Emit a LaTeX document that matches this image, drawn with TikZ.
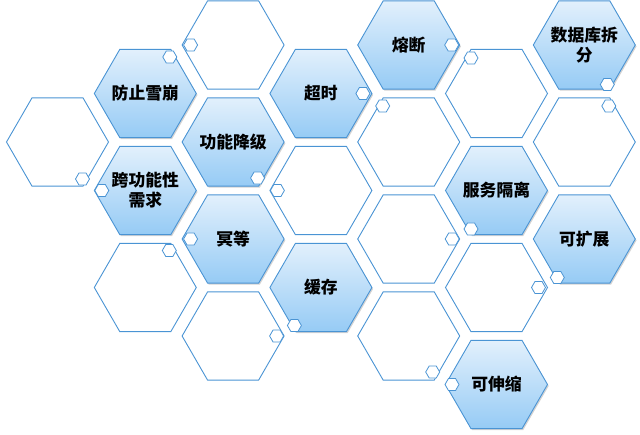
\documentclass[tikz,border=0pt]{standalone}
\usepackage{fontspec}
\newfontfamily\cjk{Noto Sans CJK SC}
\definecolor{hexblue}{RGB}{74, 148, 212}
\definecolor{hextop}{RGB}{226, 240, 252}
\definecolor{hexbottom}{RGB}{150, 203, 245}
\usepackage{tikz}
\usetikzlibrary{shapes.geometric, positioning, calc, shadows}

\tikzset{
  hexfull/.style={regular polygon, regular polygon sides=6, minimum size=102pt, inner sep=-14pt,
    draw=hexblue, line width=0.9pt, top color=hextop, bottom color=hexbottom,
    drop shadow={opacity=0.35, shadow xshift=1.2pt, shadow yshift=-1.5pt},
    font=\cjk\bfseries\fontsize{16.8pt}{20pt}\selectfont, align=center},
  hexempty/.style={regular polygon, regular polygon sides=6, minimum size=102pt, inner sep=0pt,
    draw=hexblue, line width=0.9pt, fill=white},
  hexicon/.style={regular polygon, regular polygon sides=6, minimum size=14pt, inner sep=0pt,
    draw=hexblue, line width=0.8pt, fill=white}
}

\begin{document}
\begin{tikzpicture}[x=1pt, y=-1pt]
  \useasboundingbox (0,0) rectangle (640,434);

  % Empty cells
  \node[hexempty] (e1) at (57.5, 142) {};
  \node[hexempty] (e2) at (145.3, 287.5) {};
  \node[hexempty] (e3) at (233.1, 45) {};
  \node[hexempty] (e4) at (233.1, 336) {};
  \node[hexempty] (e5) at (320.9, 190.5) {};
  \node[hexempty] (e6) at (408.7, 142) {};
  \node[hexempty] (e7) at (408.7, 239) {};
  \node[hexempty] (e8) at (408.7, 336) {};
  \node[hexempty] (e9) at (496.5, 93.5) {};
  \node[hexempty] (e10) at (496.5, 287.5) {};
  \node[hexempty] (e11) at (584.3, 142) {};

  % Labelled cells
  \node[hexfull] (avalanche) at (145.3, 93.5) {防止雪崩};
  \node[hexfull] (crossreq) at (145.3, 190.5) {跨功能性\\需求};
  \node[hexfull] (degrade) at (233.1, 142) {功能降级};
  \node[hexfull] (idem) at (233.1, 239) {冥等};
  \node[hexfull] (timeout) at (320.9, 93.5) {超时};
  \node[hexfull] (cache) at (320.9, 287.5) {缓存};
  \node[hexfull] (fuse) at (408.7, 45) {熔断};
  \node[hexfull] (isolate) at (496.5, 190.5) {服务隔离};
  \node[hexfull] (elastic) at (496.5, 384.5) {可伸缩};
  \node[hexfull] (dbsplit) at (584.3, 45) {数据库拆\\分};
  \node[hexfull] (scale) at (584.3, 239) {可扩展};

  % Corner icons
  \node[hexicon] (i1) at ($(e1)+(25,37)$) {};
  \node[hexicon] (i2) at ($(e2)+(24,-37)$) {};
  \node[hexicon] (i3) at ($(e3)+(-42.5,0)$) {};
  \node[hexicon] (i4) at ($(e4)+(43.5,0)$) {};
  \node[hexicon] (i5) at ($(e5)+(-43.5,0)$) {};
  \node[hexicon] (i6) at ($(e6)+(-26,-36)$) {};
  \node[hexicon] (i7) at ($(e7)+(43.5,0)$) {};
  \node[hexicon] (i8) at ($(e8)+(24,36)$) {};
  \node[hexicon] (i9) at ($(e9)+(-25.5,-35.5)$) {};
  \node[hexicon] (i10) at ($(e10)+(42,0)$) {};
  \node[hexicon] (i11) at ($(e11)+(24.5,-36)$) {};
  \node[hexicon] (i12) at ($(avalanche)+(24.5,-36.5)$) {};
  \node[hexicon] (i13) at ($(crossreq)+(-43.5,0)$) {};
  \node[hexicon] (i14) at ($(degrade)+(24.5,36)$) {};
  \node[hexicon] (i15) at ($(idem)+(-42.5,0)$) {};
  \node[hexicon] (i16) at ($(timeout)+(42,0)$) {};
  \node[hexicon] (i17) at ($(cache)+(-26.5,38)$) {};
  \node[hexicon] (i18) at ($(fuse)+(43,0)$) {};
  \node[hexicon] (i19) at ($(isolate)+(-25.5,38.5)$) {};
  \node[hexicon] (i20) at ($(elastic)+(-44.5,0)$) {};
  \node[hexicon] (i21) at ($(dbsplit)+(23,39.5)$) {};
  \node[hexicon] (i22) at ($(scale)+(-27,38.5)$) {};
\end{tikzpicture}
\end{document}
